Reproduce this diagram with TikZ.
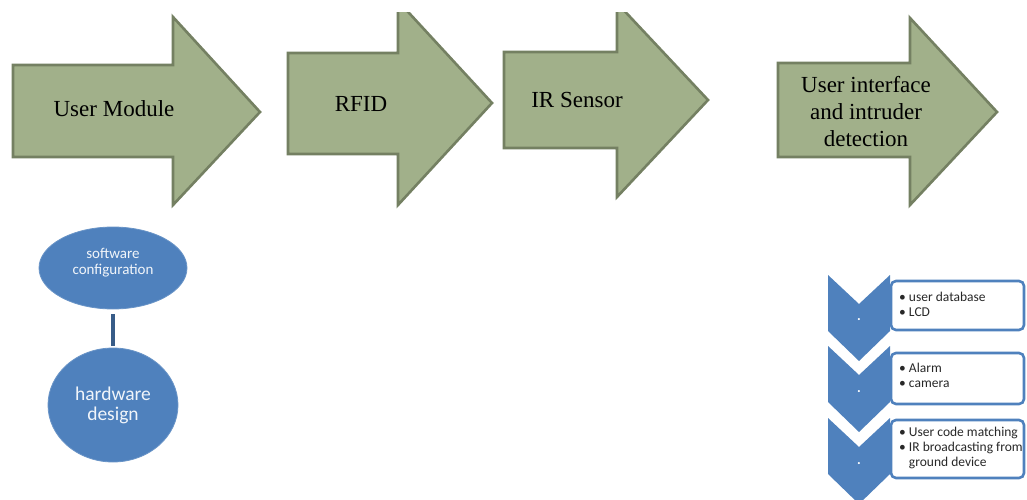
\documentclass[tikz,border=0pt]{standalone}
\usepackage{fontspec}
\newfontfamily\myserif{Liberation Serif}
\newfontfamily\mysans{Carlito}
\usetikzlibrary{shapes.geometric}
\definecolor{armfill}{RGB}{161,176,138}
\definecolor{armdraw}{RGB}{116,128,98}
\definecolor{bluefill}{RGB}{79,129,189}
\definecolor{bluedark}{RGB}{56,92,136}
\definecolor{txtgray}{RGB}{40,40,40}
\tikzset{
  bigarrow/.style={fill=armfill, draw=armdraw, line width=2.6pt},
  arrowtext/.style={font=\myserif\fontsize{23}{27}\selectfont, text=black, align=center, inner sep=0pt},
  ell/.style={ellipse, fill=bluefill, draw=bluefill!85!white, line width=0.8pt, inner sep=0pt},
  elltext/.style={font=\mysans\fontsize{15}{15.5}\selectfont, text=white!92!bluefill, align=center, inner sep=0pt},
  link/.style={draw=bluedark, line width=3.5pt},
  chev/.style={fill=bluefill, draw=none},
  itembox/.style={draw=bluefill, line width=2.6pt, rounded corners=5pt, fill=white, inner sep=0pt},
  itemtext/.style={font=\mysans\fontsize{13.5}{15}\selectfont, text=txtgray, align=left, inner sep=0pt, anchor=west},
  dotmark/.style={font=\mysans\bfseries\fontsize{14}{14}\selectfont, text=white, inner sep=0pt}
}
\begin{document}
\begin{tikzpicture}[x=1pt, y=-1pt]
\useasboundingbox (0,0) rectangle (1027,500);
\fill[white] (0,0) rectangle (1027,500);
\begin{scope}
\clip (0,13) rectangle (1027,500);
% big arrows
\draw[bigarrow] (13,65) -- (173,65) -- (173,17) -- (260,112) -- (173,205) -- (173,157) -- (13,157) -- cycle;
\draw[bigarrow] (288,53) -- (398,53) -- (398,1) -- (492,103) -- (398,205) -- (398,154) -- (288,154) -- cycle;
\draw[bigarrow] (504,52) -- (617,52) -- (617,3) -- (708,100) -- (617,197) -- (617,148) -- (504,148) -- cycle;
\draw[bigarrow] (778,63) -- (910,63) -- (910,18) -- (997,112) -- (910,205) -- (910,157) -- (778,157) -- cycle;
\node[arrowtext] (um) at (114,109) {User Module};
\node[arrowtext] (rfid) at (361,104) {RFID};
\node[arrowtext] (irs) at (577,100) {IR Sensor};
\node[arrowtext] (ui) at (866,112) {User interface\\and intruder\\detection};
% ellipses
\node[ell, minimum width=148pt, minimum height=82pt] (sw) at (113,268) {};
\node[elltext] (swt) at (113,262.5) {software\\configuration};
\node[ell, minimum width=130pt, minimum height=114pt, font=\mysans\fontsize{19.5}{20}\selectfont, text=white!92!bluefill, align=center] (hw) at (113,405) {hardware\\design};
\draw[link, shorten <=5pt, shorten >=2pt] (sw) -- (hw);
% chevrons
\fill[chev] (828,275) -- (859,304) -- (890,275) -- (890,331) -- (859,361) -- (828,331) -- cycle;
\fill[chev] (828,346) -- (859,375) -- (890,346) -- (890,402) -- (859,432) -- (828,402) -- cycle;
\fill[chev] (828,418) -- (859,447) -- (890,418) -- (890,474) -- (859,504) -- (828,474) -- cycle;
\node[dotmark] (d1) at (859,320) {.};
\node[dotmark] (d2) at (859,392) {.};
\node[dotmark] (d3) at (859,464) {.};
% item boxes
\node[itembox, minimum width=133pt, minimum height=49pt] (b1) at (957.5,305.5) {};
\node[itembox, minimum width=133pt, minimum height=51pt] (b2) at (957.5,378.5) {};
\node[itembox, minimum width=133pt, minimum height=58pt] (b3) at (957.5,449) {};
\node[itemtext] (t1) at (899,304) {\textbullet\ user database\\\textbullet\ LCD};
\node[itemtext] (t2) at (899,375.5) {\textbullet\ Alarm\\\textbullet\ camera};
\node[itemtext] (t3) at (899,448) {\textbullet\ User code matching\\\textbullet\ IR broadcasting from\\\phantom{\textbullet\ }ground device};
\end{scope}
\end{tikzpicture}
\end{document}
